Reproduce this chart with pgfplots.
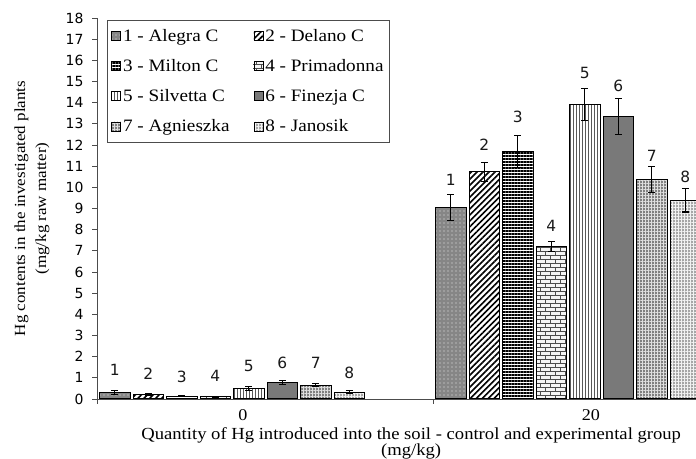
\documentclass[border=0pt]{standalone}
\usepackage{pgfplots}
\pgfplotsset{compat=1.18}
\usepackage{pgfplotstable}
\usepackage{fontspec}
\setmainfont[FakeStretch=1.1]{Liberation Serif}
\newfontfamily\sansf{DejaVu Sans}
\usetikzlibrary{patterns,patterns.meta}

\tikzdeclarepattern{
  name=smallbricks,
  type=uncolored,
  bottom left={(-.1pt,-.1pt)},
  top right={(10.1pt,8.1pt)},
  tile size={(10pt,8pt)},
  code={
    \tikzset{line width=0.8pt}
    \draw (0pt,0pt) -- (10pt,0pt);
    \draw (0pt,4pt) -- (10pt,4pt);
    \draw (2.5pt,0pt) -- (2.5pt,4pt);
    \draw (7.5pt,4pt) -- (7.5pt,8pt);
  }
}

\pgfplotstableread{
x y e
0.0531 0.30 0.10
1.0531 9.05 0.60
}\sA
\pgfplotstableread{
x y e
0.1528 0.22 0.03
1.1528 10.74 0.45
}\sB
\pgfplotstableread{
x y e
0.2525 0.14 0.03
1.2525 11.70 0.75
}\sC
\pgfplotstableread{
x y e
0.3522 0.10 0.02
1.3522 7.20 0.25
}\sD
\pgfplotstableread{
x y e
0.4519 0.50 0.08
1.4519 13.90 0.75
}\sE
\pgfplotstableread{
x y e
0.5516 0.79 0.10
1.5516 13.35 0.85
}\sF
\pgfplotstableread{
x y e
0.6513 0.66 0.08
1.6513 10.37 0.60
}\sG
\pgfplotstableread{
x y e
0.7510 0.33 0.06
1.7510 9.38 0.55
}\sH
\pgfplotstableread{
x y lab
0.0531 1.37 1
0.1528 1.18 2
0.2525 1.04 3
0.3522 1.09 4
0.4519 1.56 5
0.5516 1.70 6
0.6513 1.70 7
0.7510 1.23 8
1.0531 10.34 1
1.1528 12.00 2
1.2525 13.32 3
1.3522 8.17 4
1.4519 15.40 5
1.5516 14.78 6
1.6513 11.48 7
1.7510 10.49 8
}\labs

\pgfplotsset{
  mybar/.style={ybar, bar width=0.0908, bar shift=0pt, draw=black, line width=1bp,
     error bars/y dir=both, error bars/y explicit,
     error bars/error bar style={line width=1.2bp, black},
     error bars/error mark options={rotate=90, mark size=3.5bp, line width=1.2bp, black}},
}

\begin{document}
\begin{tikzpicture}[x=1bp,y=1bp]
\useasboundingbox (0,0) rectangle (696,459);
\begin{axis}[
  at={(97bp,60bp)}, anchor=south west,
  scale only axis, width=599bp, height=381bp,
  xmin=0, xmax=1.7827, ymin=0, ymax=18,
  axis x line=bottom, axis y line=left,
  axis line style={-, draw=gray!60!black, line width=0.8bp},
  tick align=outside, major tick length=5bp,
  tick style={draw=gray!60!black, line width=0.8bp},
  ytick={0,1,...,18},
  yticklabel style={font=\sansf\fontsize{14}{14}\selectfont, xshift=-5bp},
  /pgf/number format/assume math mode=true,
  xtick={0,1}, xticklabels={},
  extra x ticks={0.4345,1.470}, extra x tick labels={0,20},
  extra x tick style={major tick length=0pt, tick label style={font=\fontsize{16.5}{16.5}\selectfont, inner sep=0pt, yshift=-10bp}},
  xlabel={Quantity of Hg introduced into the soil - control and experimental group\\(mg/kg)},
  xlabel style={font=\fontsize{17}{15}\selectfont, align=center, inner sep=0pt, at={(axis description cs:0.5245,0)}, anchor=north, yshift=-28bp},
  ylabel={Hg contents in the investigated plants\\(mg/kg raw matter)},
  ylabel style={font=\fontsize{15.5}{21}\selectfont, align=center, at={(axis description cs:-0.1085,0.5)}, anchor=center},
  legend columns=2,
  legend cell align=left,
  legend style={at={(axis description cs:0.0167,0.9948)}, anchor=north west,
     draw=gray!60!black, line width=0.8bp, font=\fontsize{17.5}{17.5}\selectfont,
     /tikz/every even column/.append style={column sep=22bp},
     row sep=12.5bp, inner xsep=4bp, inner ysep=7bp},
  legend image code/.code={\draw[#1, line width=0.7bp] (0bp,-4.5bp) rectangle (9bp,4.5bp);},
]
\addplot[mybar, fill=gray!95, postaction={pattern={Dots[distance=4bp, radius=0.6bp]}, pattern color=white!85!gray}]
  table[x=x, y=y, y error=e]{\sA};
\addlegendentry{1 - Alegra C}
\addplot[mybar, fill=white, postaction={pattern={Lines[angle=45, distance=4.2bp, line width=1.6bp]}, pattern color=black}]
  table[x=x, y=y, y error=e]{\sB};
\addlegendentry{2 - Delano C}
\addplot[mybar, fill=white, postaction={pattern={Lines[angle=0, distance=3bp, line width=1.2bp]}, pattern color=black}]
  table[x=x, y=y, y error=e]{\sC};
\addlegendentry{3 - Milton C}
\addplot[mybar, fill=white!92!gray, postaction={pattern=smallbricks, pattern color=gray!60!black}]
  table[x=x, y=y, y error=e]{\sD};
\addlegendentry{4 - Primadonna}
\addplot[mybar, fill=white, postaction={pattern={Lines[angle=90, distance=3bp, line width=1bp]}, pattern color=gray!70!black}]
  table[x=x, y=y, y error=e]{\sE};
\addlegendentry{5 - Silvetta C}
\addplot[mybar, fill=gray!95!black]
  table[x=x, y=y, y error=e]{\sF};
\addlegendentry{6 - Finezja C}
\addplot[mybar, fill=gray, postaction={pattern={Hatch[distance=3bp, line width=0.55bp]}, pattern color=white!75!gray}]
  table[x=x, y=y, y error=e]{\sG};
\addlegendentry{7 - Agnieszka}
\addplot[mybar, fill=gray!70, postaction={pattern={Hatch[distance=3bp, line width=0.55bp]}, pattern color=white!90!gray}]
  table[x=x, y=y, y error=e]{\sH};
\addlegendentry{8 - Janosik}
\addplot[forget plot, only marks, mark=*, mark size=0pt, mark options={draw=none, fill=none},
   point meta=explicit symbolic, nodes near coords,
   every node near coord/.append style={anchor=center, inner sep=0pt, text=gray!20!black,
     font=\sansf\fontsize{15.5}{15.5}\selectfont}]
  table[x=x, y=y, meta=lab]{\labs};
\end{axis}
\end{tikzpicture}
\end{document}
